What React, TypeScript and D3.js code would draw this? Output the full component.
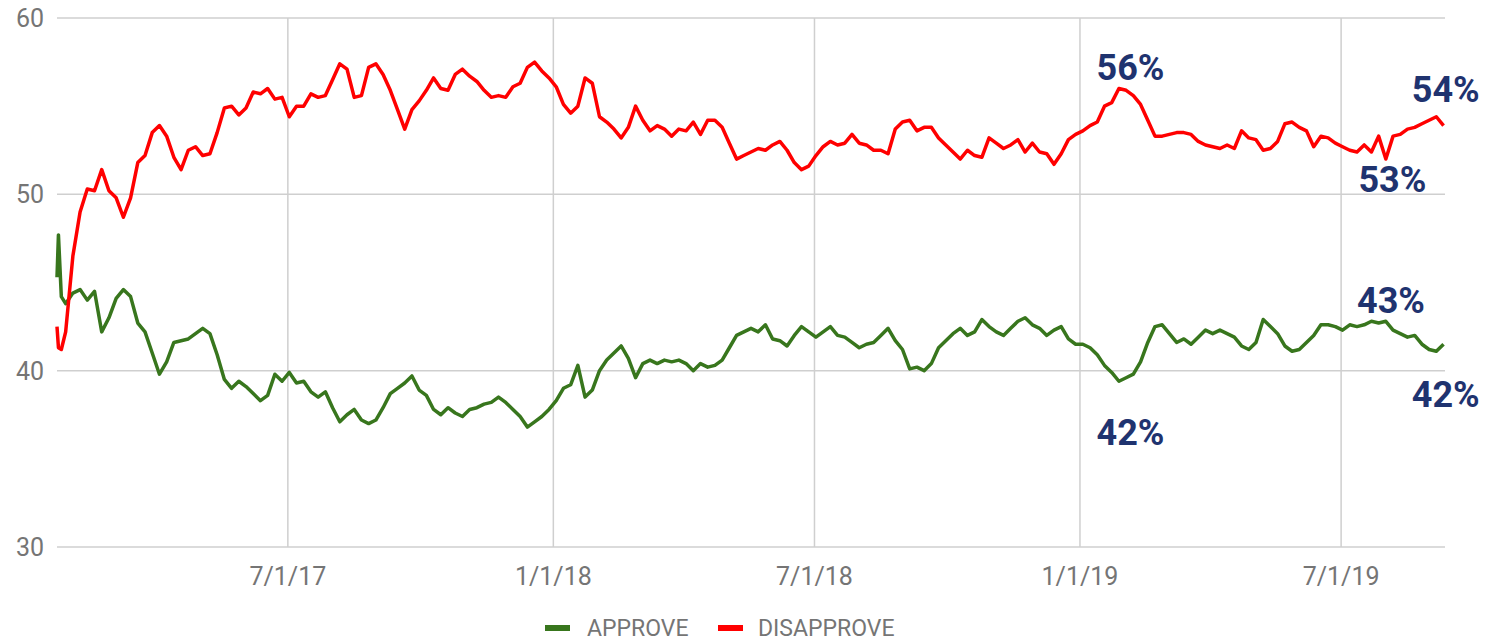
import React from 'react';
import * as d3 from 'd3';

const dates = [
  '2017-01-22', '2017-01-23', '2017-01-25', '2017-01-28',
  '2017-02-02', '2017-02-07', '2017-02-12', '2017-02-17', '2017-02-22', '2017-02-27',
  '2017-03-04', '2017-03-09', '2017-03-14', '2017-03-19', '2017-03-24', '2017-03-29',
  '2017-04-03', '2017-04-08', '2017-04-13', '2017-04-18', '2017-04-23', '2017-04-28',
  '2017-05-03', '2017-05-08', '2017-05-13', '2017-05-18', '2017-05-23', '2017-05-28',
  '2017-06-02', '2017-06-07', '2017-06-12', '2017-06-17', '2017-06-22', '2017-06-27',
  '2017-07-02', '2017-07-07', '2017-07-12', '2017-07-17', '2017-07-22', '2017-07-27',
  '2017-08-01', '2017-08-06', '2017-08-11', '2017-08-16', '2017-08-21', '2017-08-26', '2017-08-31',
  '2017-09-05', '2017-09-10', '2017-09-15', '2017-09-20', '2017-09-25', '2017-09-30',
  '2017-10-05', '2017-10-10', '2017-10-15', '2017-10-20', '2017-10-25', '2017-10-30',
  '2017-11-04', '2017-11-09', '2017-11-14', '2017-11-19', '2017-11-24', '2017-11-29',
  '2017-12-04', '2017-12-09', '2017-12-14', '2017-12-19', '2017-12-24', '2017-12-29',
  '2018-01-03', '2018-01-08', '2018-01-13', '2018-01-18', '2018-01-23', '2018-01-28',
  '2018-02-02', '2018-02-07', '2018-02-12', '2018-02-17', '2018-02-22', '2018-02-27',
  '2018-03-04', '2018-03-09', '2018-03-14', '2018-03-19', '2018-03-24', '2018-03-29',
  '2018-04-03', '2018-04-08', '2018-04-13', '2018-04-18', '2018-04-23', '2018-04-28',
  '2018-05-03', '2018-05-08', '2018-05-13', '2018-05-18', '2018-05-23', '2018-05-28',
  '2018-06-02', '2018-06-07', '2018-06-12', '2018-06-17', '2018-06-22', '2018-06-27',
  '2018-07-02', '2018-07-07', '2018-07-12', '2018-07-17', '2018-07-22', '2018-07-27',
  '2018-08-01', '2018-08-06', '2018-08-11', '2018-08-16', '2018-08-21', '2018-08-26', '2018-08-31',
  '2018-09-05', '2018-09-10', '2018-09-15', '2018-09-20', '2018-09-25', '2018-09-30',
  '2018-10-05', '2018-10-10', '2018-10-15', '2018-10-20', '2018-10-25', '2018-10-30',
  '2018-11-04', '2018-11-09', '2018-11-14', '2018-11-19', '2018-11-24', '2018-11-29',
  '2018-12-04', '2018-12-09', '2018-12-14', '2018-12-19', '2018-12-24', '2018-12-29',
  '2019-01-03', '2019-01-08', '2019-01-13', '2019-01-18', '2019-01-23', '2019-01-28',
  '2019-02-02', '2019-02-07', '2019-02-12', '2019-02-17', '2019-02-22', '2019-02-27',
  '2019-03-04', '2019-03-09', '2019-03-14', '2019-03-19', '2019-03-24', '2019-03-29',
  '2019-04-03', '2019-04-08', '2019-04-13', '2019-04-18', '2019-04-23', '2019-04-28',
  '2019-05-03', '2019-05-08', '2019-05-13', '2019-05-18', '2019-05-23', '2019-05-28',
  '2019-06-02', '2019-06-07', '2019-06-12', '2019-06-17', '2019-06-22', '2019-06-27',
  '2019-07-02', '2019-07-07', '2019-07-12', '2019-07-17', '2019-07-22', '2019-07-27',
  '2019-08-01', '2019-08-06', '2019-08-11', '2019-08-16', '2019-08-21', '2019-08-26', '2019-08-31',
  '2019-09-05', '2019-09-10',
];

const approve = [
  45.3, 47.7, 44.2, 43.8,
  44.4, 44.6, 44.0, 44.5, 42.2, 43.0,
  44.1, 44.6, 44.2, 42.7, 42.2, 41.0,
  39.8, 40.5, 41.6, 41.7, 41.8, 42.1,
  42.4, 42.1, 40.9, 39.5, 39.0, 39.4,
  39.1, 38.7, 38.3, 38.6, 39.8, 39.4,
  39.9, 39.3, 39.4, 38.8, 38.5, 38.8,
  37.9, 37.1, 37.5, 37.8, 37.2, 37.0, 37.2,
  37.9, 38.7, 39.0, 39.3, 39.7, 38.9,
  38.6, 37.8, 37.5, 37.9, 37.6, 37.4,
  37.8, 37.9, 38.1, 38.2, 38.5, 38.2,
  37.8, 37.4, 36.8, 37.1, 37.4, 37.8,
  38.3, 39.0, 39.2, 40.3, 38.5, 38.9,
  40.0, 40.6, 41.0, 41.4, 40.7, 39.6,
  40.4, 40.6, 40.4, 40.6, 40.5, 40.6,
  40.4, 40.0, 40.4, 40.2, 40.3, 40.6,
  41.3, 42.0, 42.2, 42.4, 42.2, 42.6,
  41.8, 41.7, 41.4, 42.0, 42.5, 42.2,
  41.9, 42.2, 42.5, 42.0, 41.9, 41.6,
  41.3, 41.5, 41.6, 42.0, 42.4, 41.7, 41.2,
  40.1, 40.2, 40.0, 40.4, 41.3, 41.7,
  42.1, 42.4, 42.0, 42.2, 42.9, 42.5,
  42.2, 42.0, 42.4, 42.8, 43.0, 42.6,
  42.4, 42.0, 42.3, 42.5, 41.8, 41.5,
  41.5, 41.3, 40.9, 40.3, 39.9, 39.4,
  39.6, 39.8, 40.5, 41.6, 42.5, 42.6,
  42.1, 41.6, 41.8, 41.5, 41.9, 42.3,
  42.1, 42.3, 42.1, 41.9, 41.4, 41.2,
  41.6, 42.9, 42.5, 42.1, 41.4, 41.1,
  41.2, 41.6, 42.0, 42.6, 42.6, 42.5,
  42.3, 42.6, 42.5, 42.6, 42.8, 42.7,
  42.8, 42.3, 42.1, 41.9, 42.0, 41.5, 41.2,
  41.1, 41.5,
];

const disapprove = [
  42.5, 41.3, 41.2, 42.2,
  46.5, 49.0, 50.3, 50.2, 51.4, 50.2,
  49.8, 48.7, 49.8, 51.8, 52.2, 53.5,
  53.9, 53.3, 52.1, 51.4, 52.5, 52.7,
  52.2, 52.3, 53.5, 54.9, 55.0, 54.5,
  54.9, 55.8, 55.7, 56.0, 55.4, 55.5,
  54.4, 55.0, 55.0, 55.7, 55.5, 55.6,
  56.5, 57.4, 57.1, 55.5, 55.6, 57.2, 57.4,
  56.8, 55.9, 54.8, 53.7, 54.8, 55.3,
  55.9, 56.6, 56.0, 55.9, 56.8, 57.1,
  56.7, 56.4, 55.9, 55.5, 55.6, 55.5,
  56.1, 56.3, 57.2, 57.5, 57.0, 56.6,
  56.1, 55.1, 54.6, 55.0, 56.6, 56.3,
  54.4, 54.1, 53.7, 53.2, 53.8, 55.0,
  54.2, 53.6, 53.9, 53.7, 53.3, 53.7,
  53.6, 54.1, 53.4, 54.2, 54.2, 53.8,
  52.9, 52.0, 52.2, 52.4, 52.6, 52.5,
  52.8, 53.0, 52.5, 51.8, 51.4, 51.6,
  52.2, 52.7, 53.0, 52.8, 52.9, 53.4,
  52.9, 52.8, 52.5, 52.5, 52.3, 53.7, 54.1,
  54.2, 53.6, 53.8, 53.8, 53.2, 52.8,
  52.4, 52.0, 52.5, 52.2, 52.1, 53.2,
  52.9, 52.6, 52.8, 53.1, 52.4, 52.9,
  52.4, 52.3, 51.7, 52.3, 53.1, 53.4,
  53.6, 53.9, 54.1, 55.0, 55.2, 56.0,
  55.9, 55.6, 55.1, 54.2, 53.3, 53.3,
  53.4, 53.5, 53.5, 53.4, 53.0, 52.8,
  52.7, 52.6, 52.8, 52.6, 53.6, 53.2,
  53.1, 52.5, 52.6, 53.0, 54.0, 54.1,
  53.8, 53.6, 52.7, 53.3, 53.2, 52.9,
  52.7, 52.5, 52.4, 52.8, 52.4, 53.3,
  52.0, 53.3, 53.4, 53.7, 53.8, 54.0, 54.2,
  54.4, 53.9,
];

const yTicks = [30, 40, 50, 60];
const xTicks = ['2017-07-01', '2018-01-01', '2018-07-01', '2019-01-01', '2019-07-01'];
const xTickLabels = ['7/1/17', '1/1/18', '7/1/18', '1/1/19', '7/1/19'];

// callouts: [text, date, value, anchor]
const callouts: [string, string, number, string][] = [
  ['56%', '2019-02-05', 56.5, 'middle'],
  ['42%', '2019-02-05', 35.8, 'middle'],
  ['54%', '2019-08-19', 55.24, 'start'],
  ['53%', '2019-07-13', 50.14, 'start'],
  ['43%', '2019-07-12', 43.27, 'start'],
  ['42%', '2019-08-19', 37.94, 'start'],
];

const GREEN = '#38761d';
const RED = '#ff0000';
const GRID = '#cfcfcf';
const TEXT = '#757575';
const NAVY = '#1f336f';

const parse = d3.timeParse('%Y-%m-%d');

export default function App() {
  const width = 1493;
  const height = 644;
  const margin = { top: 18, right: 48, bottom: 97, left: 57 };
  const innerW = width - margin.left - margin.right;
  const innerH = height - margin.top - margin.bottom;

  const x = d3.scaleTime()
    .domain([parse('2017-01-22') as Date, parse('2019-09-11') as Date])
    .range([0, innerW]);
  const y = d3.scaleLinear().domain([30, 60]).range([innerH, 0]);

  const pts = dates.map((d, i) => ({ date: parse(d) as Date, a: approve[i], r: disapprove[i] }));
  const lineA = d3.line<any>().x((d) => x(d.date)).y((d) => y(d.a));
  const lineR = d3.line<any>().x((d) => x(d.date)).y((d) => y(d.r));

  return (
    <svg
      width={width}
      height={height}
      style={{ position: 'absolute', left: 0, top: 0, background: '#fff' }}
      fontFamily="Roboto, sans-serif"
    >
      <g transform={`translate(${margin.left},${margin.top})`}>
        {yTicks.map((t) => (
          <g key={t} transform={`translate(0,${y(t)})`}>
            <line x2={innerW} stroke={GRID} strokeWidth={1.5} />
            <text x={-13} dy="0.36em" textAnchor="end" fontSize={25} fill={TEXT}>{t}</text>
          </g>
        ))}
        {xTicks.map((t, i) => (
          <g key={t} transform={`translate(${x(parse(t) as Date)},0)`}>
            <line y2={innerH} stroke={GRID} strokeWidth={1.5} />
            <text y={innerH + 38} textAnchor="middle" fontSize={25} fill={TEXT}>{xTickLabels[i]}</text>
          </g>
        ))}
        <path d={lineA(pts) || ''} fill="none" stroke={GREEN} strokeWidth={3.5} strokeLinejoin="round" />
        <path d={lineR(pts) || ''} fill="none" stroke={RED} strokeWidth={3.5} strokeLinejoin="round" />
        {callouts.map(([txt, d, v, anchor], i) => (
          <text
            key={i}
            x={x(parse(d) as Date)}
            y={y(v)}
            textAnchor={anchor}
            fontSize={36}
            fontWeight="bold"
            fill={NAVY}
          >
            {txt}
          </text>
        ))}
      </g>
      <g transform="translate(545,636)">
        <rect x={0} y={-11} width={25} height={6} fill={GREEN} />
        <text x={42} fontSize={23} fill={TEXT}>APPROVE</text>
        <rect x={173} y={-11} width={25} height={6} fill={RED} />
        <text x={213} fontSize={23} fill={TEXT}>DISAPPROVE</text>
      </g>
    </svg>
  );
}
